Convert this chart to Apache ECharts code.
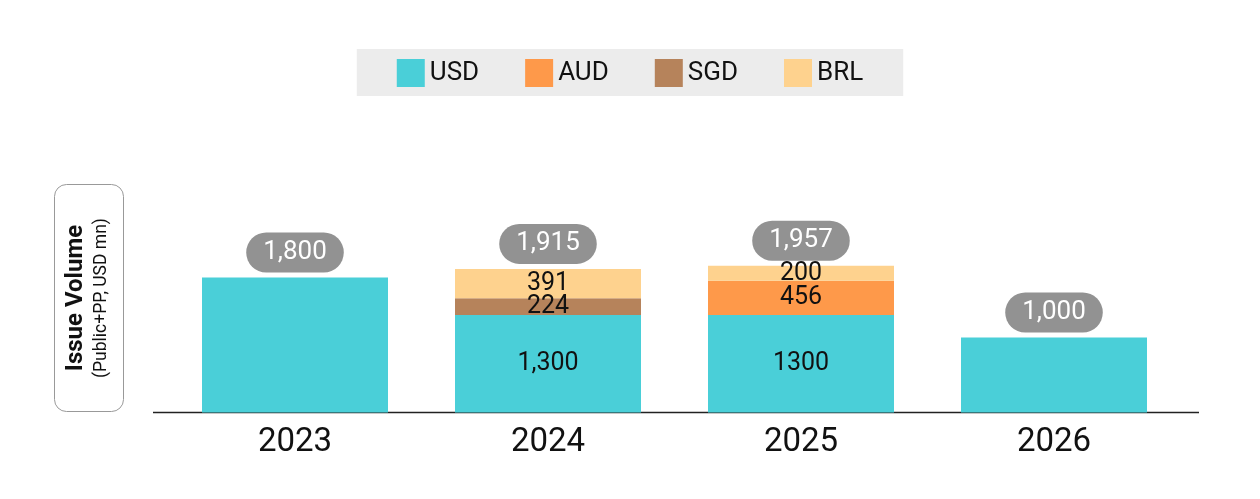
<!DOCTYPE html>
<html>
<head>
<meta charset="utf-8">
<script src="https://cdn.jsdelivr.net/npm/echarts@6/dist/echarts.min.js"></script>
<style>
  html, body { margin: 0; padding: 0; background: #fff; }
  #chart-panel { width: 1260px; height: 499px; }
</style>
</head>
<body>
<div id="chart-panel"></div>
<script>
var years = ['2023', '2024', '2025', '2026'];
var usd = [1800, 1300, 1300, 1000];
var aud = [0, 0, 456, 0];
var sgd = [0, 224, 0, 0];
var brl = [0, 391, 200, 0];
// totals as printed in the source (2025 says 1,957)
var totals = [1800, 1915, 1957, 1000];
// labels printed inside the bars (the 2025 usd one has no comma in the original)
var usdLabels = ['', '1,300', '1300', ''];
var audLabels = ['', '', '456', ''];
var sgdLabels = ['', '224', '', ''];
var brlLabels = ['', '391', '200', ''];

var chart = document.getElementById('chart-panel');
var myChart = echarts.init(chart);
var font = 'Roboto, "Liberation Sans", sans-serif';

function inner(arr) {
  return {
    show: true,
    position: 'inside',
    fontSize: 25,
    fontFamily: font,
    color: '#111',
    formatter: function (p) { return arr[p.dataIndex]; }
  };
}

function barSeries(name, data, color, labels) {
  return {
    name: name,
    type: 'bar',
    stack: 'vol',
    barWidth: 186,
    data: data,
    itemStyle: { color: color },
    label: inner(labels),
    emphasis: { disabled: true }
  };
}

var option = {
  animation: false,
  textStyle: { fontFamily: font },
  legend: {
    data: ['USD', 'AUD', 'SGD', 'BRL'],
    top: 49,
    left: 'center',
    backgroundColor: '#ececec',
    padding: [10, 40, 9, 40],
    itemWidth: 28,
    itemHeight: 28,
    itemGap: 46,
    icon: 'rect',
    textStyle: { fontSize: 26, color: '#111', fontFamily: font }
  },
  grid: { left: 168.5, right: 79.5, top: 187.5, bottom: 86.5 },
  xAxis: {
    type: 'category',
    data: years,
    axisLine: { show: false },
    axisTick: { show: false },
    axisLabel: { fontSize: 33, color: '#111', margin: 14, fontFamily: font }
  },
  yAxis: {
    type: 'value',
    min: 0,
    max: 3000,
    show: false,
    splitLine: { show: false }
  },
  series: [
    barSeries('USD', usd, '#4acfd8', usdLabels),
    barSeries('AUD', aud, '#fe994a', audLabels),
    barSeries('SGD', sgd, '#b6835b', sgdLabels),
    barSeries('BRL', brl, '#fed28e', brlLabels),
    {
      name: 'Total',
      type: 'scatter',
      symbolSize: 0,
      data: totals,
      silent: true,
      itemStyle: { opacity: 1 },
      label: {
        show: true,
        position: 'top',
        distance: 5,
        fontSize: 26,
        lineHeight: 30,
        color: '#fff',
        backgroundColor: '#929292',
        borderRadius: 20,
        padding: [5, 17],
        fontFamily: font,
        formatter: function (p) { return p.value.toLocaleString('en-US'); }
      }
    }
  ],
  graphic: [
    {
      type: 'line',
      shape: { x1: 153, y1: 412.5, x2: 1199, y2: 412.5 },
      style: { stroke: '#222', lineWidth: 1.5 }
    },
    {
      type: 'rect',
      shape: { x: 54.5, y: 184.5, width: 69, height: 227, r: 12 },
      style: { fill: 'none', stroke: '#999', lineWidth: 1 }
    },
    {
      type: 'text',
      x: 76, y: 298, rotation: Math.PI / 2,
      style: {
        text: 'Issue Volume', fontSize: 24, fontWeight: 'bold', fontFamily: font,
        fill: '#111', align: 'center', verticalAlign: 'middle'
      }
    },
    {
      type: 'text',
      x: 102, y: 298, rotation: Math.PI / 2,
      style: {
        text: '(Public+PP, USD mn)', fontSize: 17.5, fontFamily: font,
        fill: '#111', align: 'center', verticalAlign: 'middle'
      }
    }
  ]
};

myChart.setOption(option);
</script>
</body>
</html>
